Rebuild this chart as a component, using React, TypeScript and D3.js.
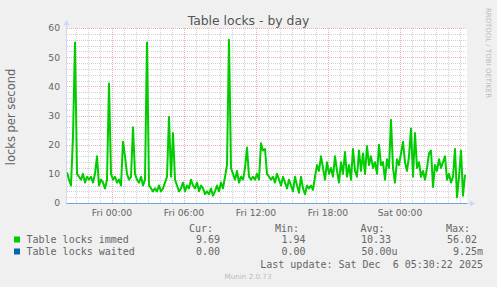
import React from "react";
import * as d3 from "d3";

// ---- data (one sample every 10 minutes, starting Thu Dec 4 20:15) ----
const startTime = Date.UTC(2025, 11, 4, 20, 15);
const endTime = Date.UTC(2025, 11, 6, 5, 35);
const stepMinutes = 10;
const immedValues = [
  10.5, 8, 6, 23, 55, 10, 9, 8, 10, 7, 9, 8, 9, 7, 10, 16, 6, 8, 7, 5,
  8, 41, 10, 8, 9, 7, 8, 6, 21, 16, 10, 8, 9, 26, 10, 8, 7, 9, 6, 8,
  55, 6, 5, 4, 5, 4, 6, 4, 5, 7, 9, 29.5, 9, 24, 8, 6, 4, 5, 7, 4,
  6, 5, 8, 6, 5, 7, 4, 6, 5, 3, 4, 3, 5, 2.5, 4, 6, 4, 7, 5, 9,
  13, 56, 12, 10, 8, 11, 7, 9, 8, 12, 19, 9, 8, 9, 8, 10, 8, 20.5, 18, 18.5,
  10, 9, 8, 9, 7, 10, 8, 6, 9, 7, 5, 8, 6, 4, 9, 6, 3.5, 9, 5, 3,
  6, 5, 6, 4.5, 9, 13, 11, 16, 12, 8, 14, 10, 12, 9, 16, 11, 7, 14, 10, 17.5,
  9, 13, 8, 18.5, 11, 9, 18, 11, 17, 10, 19.5, 13, 16, 12, 14, 10, 20, 13, 14, 8,
  15, 12, 28.5, 12, 7, 15, 13, 17, 21, 14, 11, 16, 25.5, 9, 24, 12, 14, 9, 11, 8,
  12, 17, 18, 5.5, 13, 11, 15, 12, 14, 16, 8, 10, 7, 9, 18.5, 1.94, 9, 18, 2.5, 9.69,
];
const waitedValues = [0, 0];
const yTicks = [0, 10, 20, 30, 40, 50, 60];
const legendHeaders = ["Cur:", "Min:", "Avg:", "Max:"];
const immedStats = ["9.69", "1.94", "10.33", "56.02"];
const waitedStats = ["0.00", "0.00", "50.00u", "9.25m"];
const seriesNames = ["Table locks immed", "Table locks waited"];
const seriesColors = ["#00CC00", "#0066B3"];

const W = 497;
const H = 287;
const X0 = 67;
const X1 = 467;
const YT = 28;
const YB = 203;

export default function App() {
  const x = d3.scaleUtc().domain([startTime, endTime]).range([X0, X1]);
  const y = d3.scaleLinear().domain([0, 60]).range([YB, YT]);

  const immedPts = immedValues.map((v, i) => [startTime + i * stepMinutes * 60000, v] as [number, number]);
  const waitedPts = waitedValues.map((v, i) => [i === 0 ? startTime : endTime, v] as [number, number]);
  const line = d3
    .line<[number, number]>()
    .x((d) => x(d[0]))
    .y((d) => y(d[1]));

  const hourTicks = x.ticks(d3.utcHour.every(1)!);
  const sixTicks = x.ticks(d3.utcHour.every(6)!);
  const minorY = d3.range(0, 61, 2).filter((v) => v % 10 !== 0);
  const fmt = d3.utcFormat("%a %H:%M");

  const font = "'DejaVu Sans', sans-serif";
  const mono = "'DejaVu Sans Mono', monospace";
  const valEndsA = [220, 305.5, 391, 477];
  const valEndsB = [220, 305.5, 397.5, 483];
  const headEnds = [213, 299, 384.5, 470];

  return (
    <svg width={W} height={H} style={{ position: "absolute", left: 0, top: 0 }}>
      <rect x={0} y={0} width={W} height={H} fill="#F0F0F0" />
      <rect x={X0} y={YT} width={X1 - X0} height={YB - YT} fill="#FFFFFF" />
      {/* minor grid */}
      {hourTicks
        .filter((t) => !sixTicks.some((s) => +s === +t))
        .map((t, i) => (
          <line key={"vm" + i} x1={Math.round(x(t)) + 0.5} x2={Math.round(x(t)) + 0.5} y1={YT} y2={YB}
            stroke="#d2d2d2" strokeDasharray="1,1" />
        ))}
      {minorY.map((v) => (
        <line key={"hm" + v} x1={X0} x2={X1} y1={Math.round(y(v)) + 0.5} y2={Math.round(y(v)) + 0.5}
          stroke="#d2d2d2" strokeDasharray="1,1" />
      ))}
      {/* major grid */}
      {sixTicks.map((t, i) => (
        <line key={"vM" + i} x1={Math.round(x(t)) + 0.5} x2={Math.round(x(t)) + 0.5} y1={YT} y2={YB}
          stroke="#ebb0b0" strokeDasharray="1,1" />
      ))}
      {yTicks.filter((v) => v > 0).map((v) => (
        <line key={"hM" + v} x1={X0} x2={X1} y1={Math.round(y(v)) + 0.5} y2={Math.round(y(v)) + 0.5}
          stroke="#ebb0b0" strokeDasharray="1,1" />
      ))}
      {/* series */}
      <path d={line(immedPts) || ""} fill="none" stroke={seriesColors[0]} strokeWidth={2} strokeLinejoin="round" />
      {/* axes */}
      <line x1={X0 - 0.5} x2={X0 - 0.5} y1={YT - 4} y2={YB + 1} stroke="#CFD6F8" />
      <line x1={X0 - 2} x2={X1 + 4} y1={YB + 0.5} y2={YB + 0.5} stroke="#CFD6F8" />
      <path d={line(waitedPts) || ""} fill="none" stroke={seriesColors[1]} strokeOpacity={0.45} strokeWidth={1}
        transform="translate(0,0.5)" />
      <path d={`M${X0 - 3.5},${YT - 3} L${X0 + 2.5},${YT - 3} L${X0 - 0.5},${YT - 8} Z`} fill="#CFD6F8" />
      <path d={`M${X1 + 3},${YB - 2.5} L${X1 + 3},${YB + 3.5} L${X1 + 8},${YB + 0.5} Z`} fill="#CFD6F8" />
      {/* y ticks */}
      {yTicks.map((v) => (
        <text key={"yt" + v} x={60} y={y(v) + 3.4} textAnchor="end" fontFamily={font} fontSize={9.2} fill="#666666">
          {v}
        </text>
      ))}
      {/* x ticks */}
      {sixTicks.map((t, i) => (
        <text key={"xt" + i} x={x(t)} y={216} textAnchor="middle" fontFamily={font} fontSize={9.2} fill="#666666">
          {fmt(t)}
        </text>
      ))}
      {/* title */}
      <text x={248.5} y={24.5} textAnchor="middle" fontFamily={font} fontSize={12.4} fill="#555555">
        Table locks - by day
      </text>
      {/* y label */}
      <text transform={`translate(15,117) rotate(-90)`} textAnchor="middle" fontFamily={font} fontSize={11.5} fill="#666666">
        locks per second
      </text>
      {/* watermark */}
      <text transform={`translate(485.5,53) rotate(90)`} textAnchor="middle" fontFamily={font} fontSize={7} fill="#bbbbbb">
        RRDTOOL / TOBI OETIKER
      </text>
      {/* legend */}
      {legendHeaders.map((h, i) => (
        <text key={"lh" + i} x={headEnds[i]} y={232} textAnchor="end" fontFamily={mono} fontSize={10} fill="#666666">
          {h}
        </text>
      ))}
      {seriesNames.map((n, r) => (
        <g key={"ls" + r}>
          <rect x={14} y={236.5 + r * 12} width={6} height={6} fill={seriesColors[r]} />
          <text x={26.5} y={243.3 + r * 11.6} fontFamily={mono} fontSize={10} fill="#666666">
            {n}
          </text>
        </g>
      ))}
      {immedStats.map((s, i) => (
        <text key={"ia" + i} x={valEndsA[i]} y={243.3} textAnchor="end" fontFamily={mono} fontSize={10} fill="#666666">
          {s}
        </text>
      ))}
      {waitedStats.map((s, i) => (
        <text key={"wa" + i} x={valEndsB[i]} y={254.9} textAnchor="end" fontFamily={mono} fontSize={10} fill="#666666">
          {s}
        </text>
      ))}
      <text x={483} y={267.6} textAnchor="end" fontFamily={mono} fontSize={10} fill="#666666" style={{ whiteSpace: "pre" }}>
        {"Last update: Sat Dec  6 05:30:22 2025"}
      </text>
      <text x={248} y={279} textAnchor="middle" fontFamily={font} fontSize={7.2} fill="#bbbbbb">
        Munin 2.0.73
      </text>
    </svg>
  );
}
